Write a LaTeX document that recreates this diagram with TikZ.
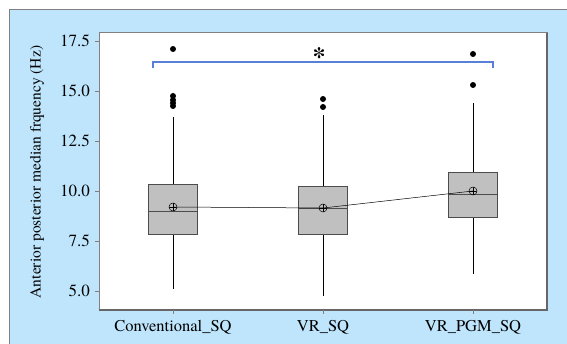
\documentclass[tikz,border=0pt]{standalone}
\usepackage{fontspec}
\setmainfont{texgyretermes-regular.otf}[BoldFont=texgyretermes-bold.otf]
\newfontfamily\plotfont{texgyretermes-regular.otf}[BoldFont=texgyretermes-bold.otf]
\usetikzlibrary{positioning}
\definecolor{panelblue}{RGB}{190,229,252}
\definecolor{framegrey}{RGB}{128,128,128}
\definecolor{boxgrey}{RGB}{192,192,192}
\definecolor{brackblue}{RGB}{88,128,216}

\begin{document}
\begin{tikzpicture}[x=1pt, y=-1pt,
    qbox/.style={draw=black!70, fill=boxgrey, line width=0.7pt},
    whisk/.style={draw=black, line width=0.6pt},
    outlier/.style={circle, fill=black, inner sep=0pt, minimum size=6pt},
    meanmark/.style={circle, draw=black, inner sep=0pt, minimum size=8pt, line width=0.5pt,
        path picture={\draw[line width=0.5pt] (path picture bounding box.north) -- (path picture bounding box.south)
            (path picture bounding box.west) -- (path picture bounding box.east);}},
    ticklab/.style={font=\plotfont\fontsize{17}{19}\selectfont, anchor=east, inner sep=0pt},
    grplab/.style={font=\plotfont\fontsize{16.5}{18}\selectfont, inner sep=0pt}
]
\useasboundingbox (0,0) rectangle (567,344);
% background panel
\fill[panelblue] (9,10) rectangle (567,344);
\draw[framegrey, line width=1pt] (9,344) -- (9,10) -- (567,10);
% plot area
\draw[framegrey, fill=white, line width=1pt] (99,33) rectangle (547,310);
\draw[framegrey!80!black, line width=1.5pt] (99,310) -- (547,310) -- (547,33);

% y ticks
\foreach \v/\y in {17.5/41, 15.0/91, 12.5/141, 10.0/191, 7.5/241, 5.0/291} {
    \draw[framegrey] (95,\y) -- (99,\y);
    \node[ticklab] at (90,\y) {\v};
}
% x ticks
\foreach \x in {173,323,473}
    \draw[framegrey] (\x,310) -- (\x,314);

% Conventional_SQ
\draw[whisk] (173,289) -- (173,117);
\draw[qbox] (148.5,184) rectangle (197.5,234);
\draw[black!70] (148.5,211) -- (197.5,211);
\node[meanmark] (m1) at (173,207) {};
\foreach \y in {49,96,100,103,106}
    \node[outlier] at (173,\y) {};

% VR_SQ
\draw[whisk] (323,296) -- (323,115);
\draw[qbox] (298.5,186) rectangle (347.5,234);
\draw[black!70] (298.5,208) -- (347.5,208);
\node[meanmark] (m2) at (323,208) {};
\foreach \y in {99,107}
    \node[outlier] at (323,\y) {};

% VR_PGM_SQ
\draw[whisk] (473,274) -- (473,103);
\draw[qbox] (448.5,172) rectangle (497.5,217);
\draw[black!70] (448.5,194) -- (497.5,194);
\node[meanmark] (m3) at (473,191) {};
\foreach \y in {54,85}
    \node[outlier] at (473,\y) {};

% mean connect line
\draw[black, line width=0.5pt] (m1.center) -- (m2.center) -- (m3.center);

% significance bracket
\coordinate (bl) at (153,68);
\coordinate (br) at (493,68);
\draw[brackblue, line width=1.2pt] (bl) -- ++(0,-6) -| (br);
\node[font=\plotfont\fontsize{26}{26}\selectfont\bfseries, inner sep=0pt] (star) at (319,57) {*};

% labels
\node[grplab] (g1) at (173,327) {Conventional\_SQ};
\node[grplab] (g2) at (323,327) {VR\_SQ};
\node[grplab] (g3) at (473,327) {VR\_PGM\_SQ};
\node[grplab, font=\plotfont\fontsize{15.5}{17}\selectfont, rotate=90] (ylab) at (37,172) {Anterior posterior median frquency (Hz)};
\end{tikzpicture}
\end{document}
